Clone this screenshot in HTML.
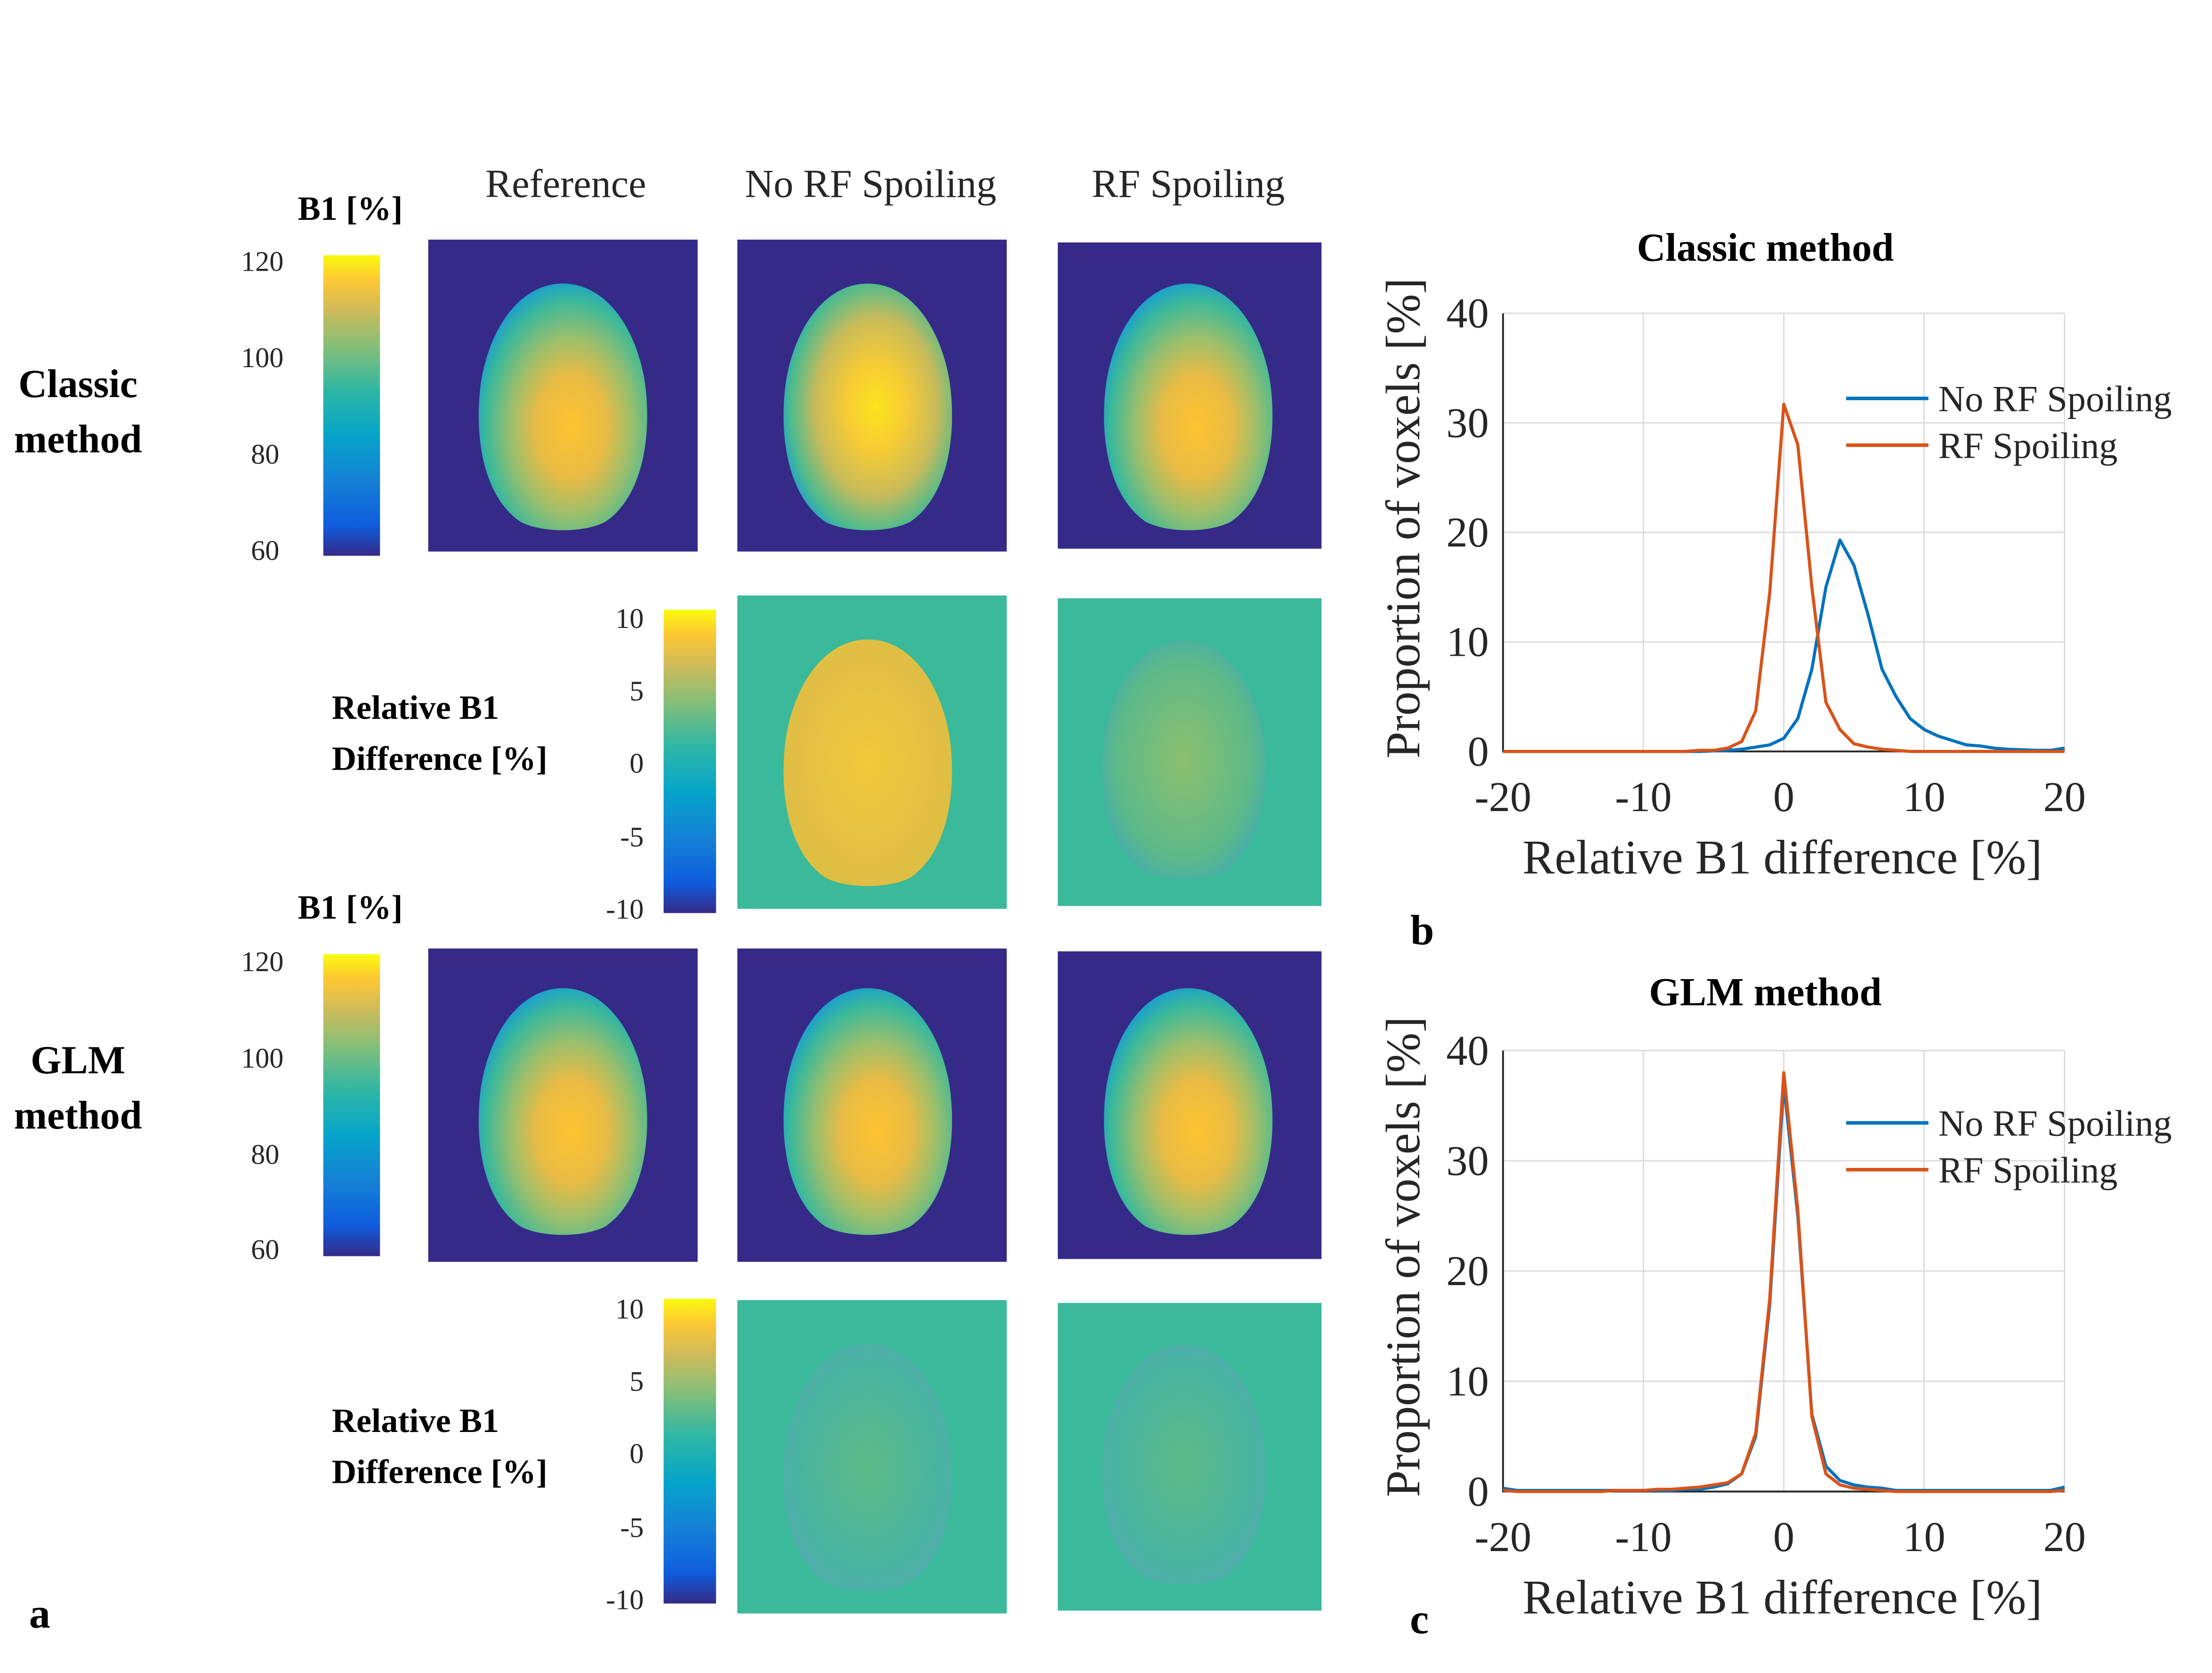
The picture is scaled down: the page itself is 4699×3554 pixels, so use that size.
<!DOCTYPE html>
<html><head><meta charset="utf-8"><style>
html,body{margin:0;padding:0;background:#fff;}
svg{display:block;font-family:"Liberation Serif","DejaVu Serif",serif;}
svg text{font-family:"Liberation Serif","DejaVu Serif",serif !important;fill:#262626;}
svg text.b{font-weight:bold;fill:#000;}
</style></head><body>
<svg id="fig" width="4699" height="3554" viewBox="0 0 1560 1180" preserveAspectRatio="none" xmlns="http://www.w3.org/2000/svg" font-family="Liberation Serif, DejaVu Serif, serif">
<defs>
<linearGradient id="parula" x1="0" y1="1" x2="0" y2="0">
<stop offset="0" stop-color="#352a87"/><stop offset="0.1" stop-color="#0f5cdd"/><stop offset="0.25" stop-color="#1481d6"/><stop offset="0.4" stop-color="#06a4ca"/><stop offset="0.55" stop-color="#2eb7a4"/><stop offset="0.7" stop-color="#87bf77"/><stop offset="0.82" stop-color="#d1bb59"/><stop offset="0.92" stop-color="#fec832"/><stop offset="1" stop-color="#f9fb0e"/>
</linearGradient>
<radialGradient id="brainA" cx="0.55" cy="0.58" r="0.6">
<stop offset="0" stop-color="#fdc42f"/><stop offset="0.35" stop-color="#e8bb45"/><stop offset="0.6" stop-color="#9bbf6c"/><stop offset="0.85" stop-color="#3bb99a"/><stop offset="1" stop-color="#1a9ed0"/>
</radialGradient>
<radialGradient id="brainB" cx="0.55" cy="0.5" r="0.6">
<stop offset="0" stop-color="#fbe31c"/><stop offset="0.3" stop-color="#f6cb35"/><stop offset="0.6" stop-color="#c8bb5a"/><stop offset="0.85" stop-color="#4cbb8f"/><stop offset="1" stop-color="#1a9ed0"/>
</radialGradient>
<radialGradient id="diffA" cx="0.5" cy="0.5" r="0.6">
<stop offset="0" stop-color="#f2c93a"/><stop offset="0.7" stop-color="#e3be45"/><stop offset="1" stop-color="#d8c040"/>
</radialGradient>
<radialGradient id="diffB" cx="0.5" cy="0.5" r="0.6">
<stop offset="0" stop-color="#8cbf6e"/><stop offset="0.7" stop-color="#5cb98a"/><stop offset="1" stop-color="#3aa8b8"/>
</radialGradient>
<radialGradient id="diffC" cx="0.5" cy="0.5" r="0.6">
<stop offset="0" stop-color="#5ebb88"/><stop offset="0.7" stop-color="#47b3a0"/><stop offset="1" stop-color="#55aab0"/>
</radialGradient>
<path id="brain" d="M0,-86 C30,-86 52,-55 58,-15 C63,25 55,65 30,82 C15,90 -15,90 -30,82 C-55,65 -63,25 -58,-15 C-52,-55 -30,-86 0,-86 Z"/>
</defs>

<text x="399" y="139" font-size="28" text-anchor="middle">Reference</text>
<text x="614" y="139" font-size="28" text-anchor="middle">No RF Spoiling</text>
<text x="838" y="139" font-size="28" text-anchor="middle">RF Spoiling</text>

<text class="b" x="55" y="280" font-size="28" text-anchor="middle">Classic</text>
<text class="b" x="55" y="319" font-size="28" text-anchor="middle">method</text>
<text class="b" x="55" y="757" font-size="28" text-anchor="middle">GLM</text>
<text class="b" x="55" y="796" font-size="28" text-anchor="middle">method</text>
<text class="b" x="234" y="507" font-size="24">Relative B1</text>
<text class="b" x="234" y="543" font-size="24">Difference [%]</text>
<text class="b" x="234" y="1010" font-size="24">Relative B1</text>
<text class="b" x="234" y="1046" font-size="24">Difference [%]</text>
<text class="b" x="247" y="155" font-size="24" text-anchor="middle">B1 [%]</text>
<text class="b" x="247" y="648" font-size="24" text-anchor="middle">B1 [%]</text>
<text class="b" x="28" y="1148" font-size="30" text-anchor="middle">a</text>
<text class="b" x="1003" y="666" font-size="30" text-anchor="middle">b</text>
<text class="b" x="1001" y="1152" font-size="30" text-anchor="middle">c</text>

<g>
<rect x="228" y="180" width="40" height="212" fill="url(#parula)"/>
<text x="200" y="191" font-size="20" text-anchor="end">120</text><text x="200" y="259" font-size="20" text-anchor="end">100</text><text x="197" y="327" font-size="20" text-anchor="end">80</text><text x="197" y="395" font-size="20" text-anchor="end">60</text>
</g>
<g>
<rect x="468" y="430" width="37" height="214" fill="url(#parula)"/>
<text x="454" y="443" font-size="20" text-anchor="end">10</text><text x="454" y="494" font-size="20" text-anchor="end">5</text><text x="454" y="545" font-size="20" text-anchor="end">0</text><text x="454" y="597" font-size="20" text-anchor="end">-5</text><text x="454" y="648" font-size="20" text-anchor="end">-10</text>
</g>
<g>
<rect x="228" y="673" width="40" height="213" fill="url(#parula)"/>
<text x="200" y="685" font-size="20" text-anchor="end">120</text><text x="200" y="753" font-size="20" text-anchor="end">100</text><text x="197" y="821" font-size="20" text-anchor="end">80</text><text x="197" y="888" font-size="20" text-anchor="end">60</text>
</g>
<g>
<rect x="468" y="916" width="37" height="215" fill="url(#parula)"/>
<text x="454" y="930" font-size="20" text-anchor="end">10</text><text x="454" y="981" font-size="20" text-anchor="end">5</text><text x="454" y="1032" font-size="20" text-anchor="end">0</text><text x="454" y="1084" font-size="20" text-anchor="end">-5</text><text x="454" y="1135" font-size="20" text-anchor="end">-10</text>
</g>

<g><rect x="302" y="169" width="190" height="220" fill="#352a87"/><use href="#brain" transform="translate(397,286)" fill="url(#brainA)"/></g>
<g><rect x="520" y="169" width="190" height="220" fill="#352a87"/><use href="#brain" transform="translate(612,286)" fill="url(#brainB)"/></g>
<g><rect x="746" y="171" width="186" height="216" fill="#352a87"/><use href="#brain" transform="translate(838,286)" fill="url(#brainA)"/></g>
<g><rect x="520" y="420" width="190" height="221" fill="#3ab99b"/><use href="#brain" transform="translate(612,537)" fill="url(#diffA)"/></g>
<g><rect x="746" y="422" width="186" height="217" fill="#3ab99b"/><use href="#brain" transform="translate(835,535) scale(0.97)" fill="url(#diffB)"/></g>
<g><rect x="302" y="669" width="190" height="221" fill="#352a87"/><use href="#brain" transform="translate(397,783)" fill="url(#brainA)"/></g>
<g><rect x="520" y="669" width="190" height="221" fill="#352a87"/><use href="#brain" transform="translate(612,783)" fill="url(#brainA)"/></g>
<g><rect x="746" y="671" width="186" height="217" fill="#352a87"/><use href="#brain" transform="translate(838,783)" fill="url(#brainA)"/></g>
<g><rect x="520" y="917" width="190" height="221" fill="#3ab99b"/><use href="#brain" transform="translate(612,1034)" fill="url(#diffC)"/></g>
<g><rect x="746" y="919" width="186" height="217" fill="#3ab99b"/><use href="#brain" transform="translate(835,1032) scale(0.97)" fill="url(#diffC)"/></g>

<g id="chartB"></g>
<g id="chartC"></g>
</svg>
<script>
const xValues = [-20,-19,-18,-17,-16,-15,-14,-13,-12,-11,-10,-9,-8,-7,-6,-5,-4,-3,-2,-1,0,1,2,3,4,5,6,7,8,9,10,11,12,13,14,15,16,17,18,19,20];
const classicNoRF = [0,0,0,0,0,0,0,0,0,0,0,0,0,0,0,0.05,0.1,0.2,0.4,0.6,1.2,3,7.5,15,19.3,17,12.5,7.5,5,3,2,1.4,1,0.6,0.5,0.3,0.2,0.15,0.1,0.1,0.3];
const classicRF = [0,0,0,0,0,0,0,0,0,0,0,0,0,0,0.1,0.1,0.3,0.9,3.7,14.5,31.7,28,15,4.5,2,0.7,0.4,0.2,0.1,0,0,0,0,0,0,0,0,0,0,0,0];
const glmNoRF = [0.3,0.1,0.1,0.1,0.1,0.1,0.1,0.1,0.1,0.1,0.1,0.1,0.1,0.2,0.2,0.4,0.7,1.6,5,17,37,25,7,2.3,1,0.6,0.4,0.3,0.1,0.1,0.1,0.1,0.1,0.1,0.1,0.1,0.1,0.1,0.1,0.1,0.4];
const glmRF = [0.1,0,0,0,0,0,0,0,0.1,0.1,0.1,0.2,0.2,0.3,0.4,0.6,0.8,1.6,5.3,17.5,38,25.5,6.8,1.6,0.6,0.3,0.2,0.1,0,0,0,0,0,0,0,0,0,0,0,0,0.1];
const xTicks = [-20,-10,0,10,20];
const yTicks = [0,10,20,30,40];
const legendLabels = ["No RF Spoiling","RF Spoiling"];
const NS="http://www.w3.org/2000/svg";
function mk(parent,tag,attrs,txt){const e=document.createElementNS(NS,tag);for(const k in attrs)e.setAttribute(k,attrs[k]);if(txt!==undefined)e.textContent=txt;parent.appendChild(e);return e;}
function drawChart(gid,title,top,bottom,titleY,legY,s1,s2){
  const g=document.getElementById(gid);
  const L=1060,R=1456;
  const sx=v=>L+(v+20)/40*(R-L);
  const sy=v=>bottom-v/40*(bottom-top);
  const t=mk(g,'text',{x:1245,y:titleY,'font-size':28,'text-anchor':'middle',class:'b'},title);
  
  
  xTicks.forEach(v=>{
    const l=mk(g,'line',{x1:sx(v),x2:sx(v),y1:top,y2:bottom,stroke:'#dcdcdc','stroke-width':1});
    
    
    const tl=mk(g,'text',{x:sx(v),y:bottom+42,'font-size':30,'text-anchor':'middle'},String(v));
    
    
  });
  yTicks.forEach(v=>{
    const l=mk(g,'line',{x1:L,x2:R,y1:sy(v),y2:sy(v),stroke:'#dcdcdc','stroke-width':1});
    
    
    const tl=mk(g,'text',{x:L-10,y:sy(v)+10,'font-size':30,'text-anchor':'end'},String(v));
    
    
  });
  const ax=mk(g,'path',{d:`M${L},${top}V${bottom}H${R}`,fill:'none',stroke:'#262626','stroke-width':1.3});
  
  
  const xl=mk(g,'text',{x:1257,y:bottom+86,'font-size':34,'text-anchor':'middle'},'Relative B1 difference [%]');
  
  
  const cy=(top+bottom)/2-10;
  const yl=mk(g,'text',{x:0,y:0,'font-size':34,'text-anchor':'middle',transform:`translate(1001,${cy}) rotate(-90)`},'Proportion of voxels [%]');
  
  
  const cols=['#0072bd','#d95319'];
  [s1,s2].forEach((s,i)=>{
    const d=s.map((v,j)=>(j?'L':'M')+sx(xValues[j]).toFixed(2)+','+sy(v).toFixed(2)).join('');
    const p=mk(g,'path',{d:d,fill:'none',stroke:cols[i],'stroke-width':2.2,'stroke-linejoin':'round'});
    
    
    const ly=legY+i*33;
    const ll=mk(g,'line',{x1:1302,x2:1360,y1:ly,y2:ly,stroke:cols[i],'stroke-width':2.5});
    
    
    const lt=mk(g,'text',{x:1367,y:ly+9,'font-size':26,fill:'#000'},legendLabels[i]);
    
    
  });
}
drawChart('chartB','Classic method',221,530,184,281,classicNoRF,classicRF);
drawChart('chartC','GLM method',741,1052,709,792,glmNoRF,glmRF);
</script>
</body></html>
